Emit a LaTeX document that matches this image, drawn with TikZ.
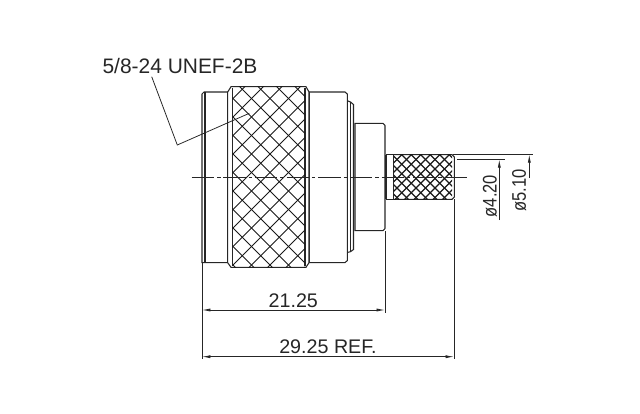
\documentclass[tikz,border=0pt]{standalone}
\usepackage{fontspec}
\usepackage{graphicx}
\setmainfont{Liberation Sans}
\usetikzlibrary{arrows.meta}

\tikzset{
    outline/.style={draw=black!85, line width=0.75pt},
    knurl/.style={draw=black!90, line width=0.75pt},
    fineknurl/.style={draw=black!90, line width=0.85pt},
    centerline/.style={draw=black!85, line width=0.55pt, dash pattern=on 16pt off 2pt on 2.5pt off 2pt},
    dimline/.style={draw=black!85, line width=0.55pt},
    dimarrow/.style={dimline, -{Latex[length=6pt,width=2.2pt]}},
    dimboth/.style={dimline, {Latex[length=6pt,width=2.2pt]}-{Latex[length=6pt,width=2.2pt]}},
    dimtext/.style={text=black!85, font=\fontsize{14pt}{15pt}\selectfont, inner sep=0pt},
    calltext/.style={text=black!85, font=\fontsize{14.9pt}{15pt}\selectfont, inner sep=0pt},
    diatext/.style={text=black!85, font=\fontsize{14pt}{15pt}\selectfont, inner sep=0pt, rotate=90}
}

\begin{document}
\begin{tikzpicture}[x=0.025cm, y=-0.025cm]
        \useasboundingbox (0, 0) rectangle (640, 414);

        % body
        \draw[outline] (202, 262.7) -- (202, 94) -- (204, 92) -- (345, 92) -- (347.3, 94)
            -- (347.3, 260.5) -- (345, 262.7) -- (204, 262.7) -- cycle;
        \draw[outline] (205, 92) -- (205, 262.7);
        \draw[outline] (309, 92) -- (309, 262.7);
        \draw[outline] (227.7, 92) -- (227.7, 262.7);

        % coupling nut, knurled
        \draw[outline, fill=white] (227.7, 92) -- (231, 86.7) -- (306, 86.7) -- (309, 92)
            -- (309, 262.7) -- (306, 267.3) -- (231, 267.3) -- (227.7, 262.7) -- cycle;
        \draw[outline] (232.7, 88) -- (232.7, 266);
        \draw[outline] (305, 88) -- (305, 266);
        \begin{scope}
            \clip (232.7, 86.7) rectangle (305, 267.3);
            \foreach \pos in {29.5, 48, ..., 520} {
                \draw[knurl] (\pos, 80) -- (\pos + 200, 280);
                \draw[knurl] (\pos, 80) -- (\pos - 200, 280);
            }
        \end{scope}

        % shoulder
        \draw[outline] (347.3, 100.7) -- (350.5, 102) -- (353.5, 104.5) -- (353.5, 249.5) -- (350.5, 251.7) -- (347.3, 252.5);
        \draw[outline] (350.5, 102) -- (350.5, 251.7);

        % neck
        \draw[outline] (355, 123.3) -- (383, 123.3) -- (385, 125.5) -- (385, 228.5) -- (383, 230.7) -- (355, 230.7) -- cycle;

        % crimp ferrule
        \draw[outline] (386.5, 154.6) rectangle (393.5, 199.3);
        \draw[outline, line width=1.1pt] (386, 154.6) -- (386, 199.3);
        \draw[outline] (393.5, 154.6) -- (452, 154.6) -- (454.3, 157) -- (454.3, 197) -- (452, 199.3) -- (393.5, 199.3);
        \begin{scope}
            \clip (393.5, 154.6) rectangle (452, 199.3);
            \foreach \pos in {340, 349.5, ..., 525} {
                \draw[fineknurl] (\pos, 150) -- (\pos + 60, 210);
                \draw[fineknurl] (\pos, 150) -- (\pos - 60, 210);
            }
        \end{scope}

        \draw[centerline] (191.7, 177.3) -- (466.7, 177.3);

        % thread callout
        \node[calltext] (threadlabel) at (180, 66.5) {5/8-24 UNEF-2B};
        \coordinate (threadstart) at (151.7, 76.7);
        \coordinate (threadelbow) at (177.3, 145);
        \coordinate (threadend) at (249.3, 113.3);
        \draw[dimline] (threadstart) -- (threadelbow) -- (threadend);

        % diameters
        \draw[dimline] (453, 154.3) -- (532.7, 154.3);
        \draw[dimline] (457, 159.3) -- (505, 159.3);
        \coordinate (innerfoot) at (499.3, 220);
        \coordinate (innertip) at (499.3, 159.3);
        \coordinate (outerfoot) at (529.3, 177.7);
        \coordinate (outertip) at (529.3, 154.3);
        \draw[dimarrow] (innerfoot) -- (innertip);
        \draw[dimarrow] (outerfoot) -- (outertip);
        \node[diatext] (innerlabel) at (490, 196) {\scalebox{0.84}[1]{ø4.20}};
        \node[diatext] (outerlabel) at (519.3, 190.5) {\scalebox{0.84}[1]{ø5.10}};

        % lengths
        \coordinate (startlong) at (202, 310);
        \coordinate (endlong) at (385, 310);
        \coordinate (startref) at (202, 356.7);
        \coordinate (endref) at (454, 356.7);
        \draw[dimline] (202, 263) -- (202, 359.3);
        \draw[dimline] (385, 231) -- (385, 312.7);
        \draw[dimline] (454, 199) -- (454, 359.3);
        \draw[dimboth] (startlong) -- (endlong);
        \draw[dimboth] (startref) -- (endref);
        \node[dimtext] (longlabel) at (293.3, 301) {21.25};
        \node[dimtext] (reflabel) at (328, 347) {29.25 REF.};
    \end{tikzpicture}
\end{document}
